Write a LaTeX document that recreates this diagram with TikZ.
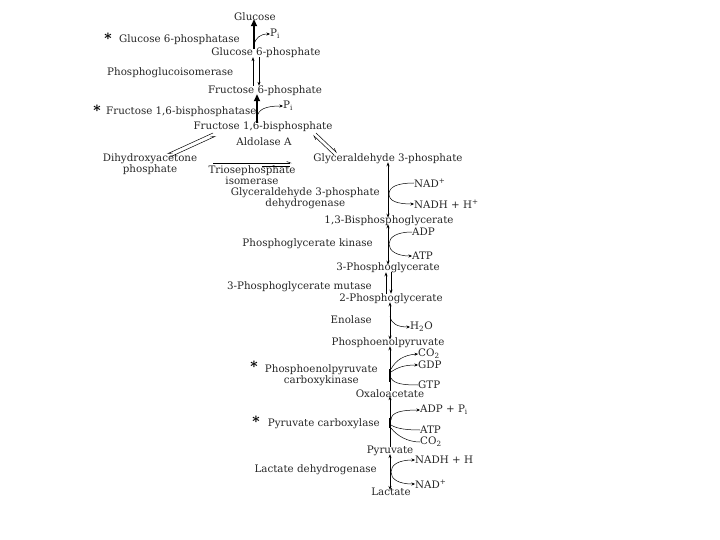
\documentclass[tikz,border=0pt]{standalone}
\usepackage{fontspec}
\setmainfont{DejaVu Serif}
\usetikzlibrary{arrows.meta}
\begin{document}
\begin{tikzpicture}[x=1pt,y=-1pt,
  lbl/.style={font=\fontsize{10.3}{9}\selectfont, inner sep=0pt, text=black!85, align=center},
  arr/.style={-{Stealth[length=4pt,width=3pt]}, line width=0.6pt},
  darr/.style={{Stealth[length=4pt,width=3pt]}-{Stealth[length=4pt,width=3pt]}, line width=0.6pt},
  boldarr/.style={-{Triangle[length=7pt,width=6pt]}, line width=1.6pt},
  side/.style={-{Stealth[length=3.5pt,width=3pt]}, line width=0.5pt},
  plain/.style={line width=0.5pt},
  harp/.style={-{Straight Barb[harpoon,length=4pt,width=3pt]}, line width=0.5pt},
  starmark/.style={font=\fontsize{14}{14}\selectfont\bfseries, inner sep=0pt}]
\useasboundingbox (0,0) rectangle (720,540);

% metabolites
\node[lbl] (glc) at (255,17) {Glucose};
\node[lbl] (g6p) at (266,53) {Glucose 6-phosphate};
\node[lbl] (f6p) at (265,91) {Fructose 6-phosphate};
\node[lbl] (f16bp) at (263,127) {Fructose 1,6-bisphosphate};
\node[lbl] (dhap) at (150,164) {Dihydroxyacetone\\phosphate};
\node[lbl] (gap) at (388,159) {Glyceraldehyde 3-phosphate};
\node[lbl] (bpg) at (389,221) {1,3-Bisphosphoglycerate};
\node[lbl] (pg3) at (388,268) {3-Phosphoglycerate};
\node[lbl] (pg2) at (391,299) {2-Phosphoglycerate};
\node[lbl] (pep) at (388,343) {Phosphoenolpyruvate};
\node[lbl] (oaa) at (390,394) {Oxaloacetate};
\node[lbl] (pyr) at (390,451) {Pyruvate};
\node[lbl] (lac) at (391,492) {Lactate};

% enzymes
\node[starmark] (st1) at (108,38) {*};
\node[lbl,anchor=west] (e1) at (119,40) {Glucose 6-phosphatase};
\node[lbl,anchor=west] (e2) at (107,73) {Phosphoglucoisomerase};
\node[starmark] (st2) at (97,110) {*};
\node[lbl,anchor=west] (e3) at (106,112) {Fructose 1,6-bisphosphatase};
\node[lbl] (e4) at (264,142) {Aldolase A};
\node[lbl] (e5) at (252,175) {Triosephosphate\\isomerase};
\node[lbl,anchor=east] (e6) at (380,198) {Glyceraldehyde 3-phosphate\\dehydrogenase};
\node[lbl,anchor=east] (e7) at (373,244) {Phosphoglycerate kinase};
\node[lbl,anchor=east] (e8) at (372,287) {3-Phosphoglycerate mutase};
\node[lbl,anchor=east] (e9) at (372,320) {Enolase};
\node[starmark] (st3) at (254,366) {*};
\node[lbl,anchor=east] (e10) at (378,375) {Phosphoenolpyruvate\\carboxykinase};
\node[starmark] (st4) at (256,421) {*};
\node[lbl,anchor=east] (e11) at (380,424) {Pyruvate carboxylase};
\node[lbl,anchor=east] (e12) at (377,470) {Lactate dehydrogenase};

% cofactors
\node[lbl,anchor=west] (pi1) at (270,34) {P\textsubscript{i}};
\node[lbl,anchor=west] (pi2) at (283,106) {P\textsubscript{i}};
\node[lbl,anchor=west] (nad1) at (414,183) {NAD\textsuperscript{+}};
\node[lbl,anchor=west] (nadh1) at (414,204) {NADH + H\textsuperscript{+}};
\node[lbl,anchor=west] (adp1) at (412,232) {ADP};
\node[lbl,anchor=west] (atp1) at (412,256) {ATP};
\node[lbl,anchor=west] (h2o) at (410,327) {H\textsubscript{2}O};
\node[lbl,anchor=west] (co2a) at (418,354) {CO\textsubscript{2}};
\node[lbl,anchor=west] (gdp) at (418,365) {GDP};
\node[lbl,anchor=west] (gtp) at (418,385) {GTP};
\node[lbl,anchor=west] (adppi) at (420,410) {ADP + P\textsubscript{i}};
\node[lbl,anchor=west] (atp2) at (420,430) {ATP};
\node[lbl,anchor=west] (co2b) at (420,442) {CO\textsubscript{2}};
\node[lbl,anchor=west] (nadh2) at (415,460) {NADH + H};
\node[lbl,anchor=west] (nad2) at (415,484) {NAD\textsuperscript{+}};

% shaft x positions
\coordinate (x1) at (254,0);
\coordinate (x2a) at (253,0);
\coordinate (x2b) at (259,0);
\coordinate (x3) at (257,0);
\coordinate (x4) at (388,0);
\coordinate (x5a) at (386,0);
\coordinate (x5b) at (391,0);
\coordinate (x6) at (390,0);

% glucose 6-phosphatase
\draw[boldarr] ([yshift=-1pt]g6p.north -| x1) -- ([yshift=2pt]glc.south -| x1);
\coordinate (c1) at (254,44);
\draw[side] (c1) .. controls (256,38) and (260,34) .. (pi1.west);

% phosphoglucoisomerase
\draw[arr] (f6p.north -| x2a) -- ([yshift=1pt]g6p.south -| x2a);
\draw[arr] ([yshift=1pt]g6p.south -| x2b) -- (f6p.north -| x2b);

% fructose 1,6-bisphosphatase
\draw[boldarr] ([yshift=-1pt]f16bp.north -| x3) -- ([yshift=2pt]f6p.south -| x3);
\coordinate (c2) at (257,116);
\draw[side] (c2) .. controls (259,110) and (264,106) .. (pi2.west);

% aldolase
\coordinate (al1) at (213,133);
\coordinate (al2) at (167,154);
\coordinate (al3) at (170,157);
\coordinate (al4) at (216,136);
\draw[harp] (al1) -- (al2);
\draw[harp] (al3) -- (al4);
\coordinate (ar1) at (316,133);
\coordinate (ar2) at (337,153);
\coordinate (ar3) at (334,155);
\coordinate (ar4) at (313,135);
\draw[harp] (ar1) -- (ar2);
\draw[harp] (ar3) -- (ar4);

% triosephosphate isomerase
\coordinate (t1) at (213,163);
\coordinate (t2) at (292,163);
\coordinate (t3) at (262,166);
\coordinate (t4) at (290,166);
\draw[harp] (t1) -- (t2);
\draw[plain] (t3) -- (t4);

% GAPDH
\draw[darr] ([yshift=2pt]gap.south -| x4) -- ([yshift=-2pt]bpg.north -| x4);
\draw[side] (nad1.west) .. controls (397,183) and (389,187) .. (389,194)
  .. controls (389,201) and (397,204) .. (nadh1.west);

% PGK
\draw[darr] ([yshift=2pt]bpg.south -| x4) -- ([yshift=-2pt]pg3.north -| x4);
\draw[side] (adp1.west) .. controls (397,232) and (389,237) .. (389,244)
  .. controls (389,251) and (397,256) .. (atp1.west);

% mutase
\draw[arr] (pg2.north -| x5a) -- ([yshift=1pt]pg3.south -| x5a);
\draw[arr] ([yshift=1pt]pg3.south -| x5b) -- (pg2.north -| x5b);

% enolase
\draw[darr] ([yshift=2pt]pg2.south -| x6) -- ([yshift=-2pt]pep.north -| x6);
\coordinate (c3) at (390,316);
\draw[side] (c3) .. controls (391,324) and (398,327) .. (h2o.west);

% PEPCK
\draw[arr] ([yshift=-1pt]oaa.north -| x6) -- ([yshift=2pt]pep.south -| x6);
\coordinate (k1) at (390,369);
\coordinate (k2) at (390,382);
\draw[line width=2.4pt] (k1) -- (k2);
\draw[side] (391,369) .. controls (396,360) and (404,355) .. (co2a.west);
\draw[side] (391,372) .. controls (398,367) and (405,365) .. (gdp.west);
\draw[plain] (391,378) .. controls (394,384) and (404,385) .. (gtp.west);

% pyruvate carboxylase
\draw[arr] ([yshift=-1pt]pyr.north -| x6) -- ([yshift=2pt]oaa.south -| x6);
\coordinate (p1) at (390,418);
\coordinate (p2) at (390,428);
\draw[line width=2.4pt] (p1) -- (p2);
\draw[side] (391,420) .. controls (391,412) and (402,410) .. (adppi.west);
\draw[plain] (391,425) .. controls (397,429) and (408,430) .. (atp2.west);
\draw[plain] (391,428) .. controls (397,436) and (408,442) .. (co2b.west);

% LDH
\draw[darr] ([yshift=2pt]pyr.south -| x6) -- ([yshift=-2pt]lac.north -| x6);
\draw[{Stealth[length=3.5pt,width=3pt]}-{Stealth[length=3.5pt,width=3pt]}, line width=0.5pt]
  (nadh2.west) .. controls (398,460) and (391,465) .. (391,472)
  .. controls (391,479) and (398,484) .. (nad2.west);
\end{tikzpicture}
\end{document}
